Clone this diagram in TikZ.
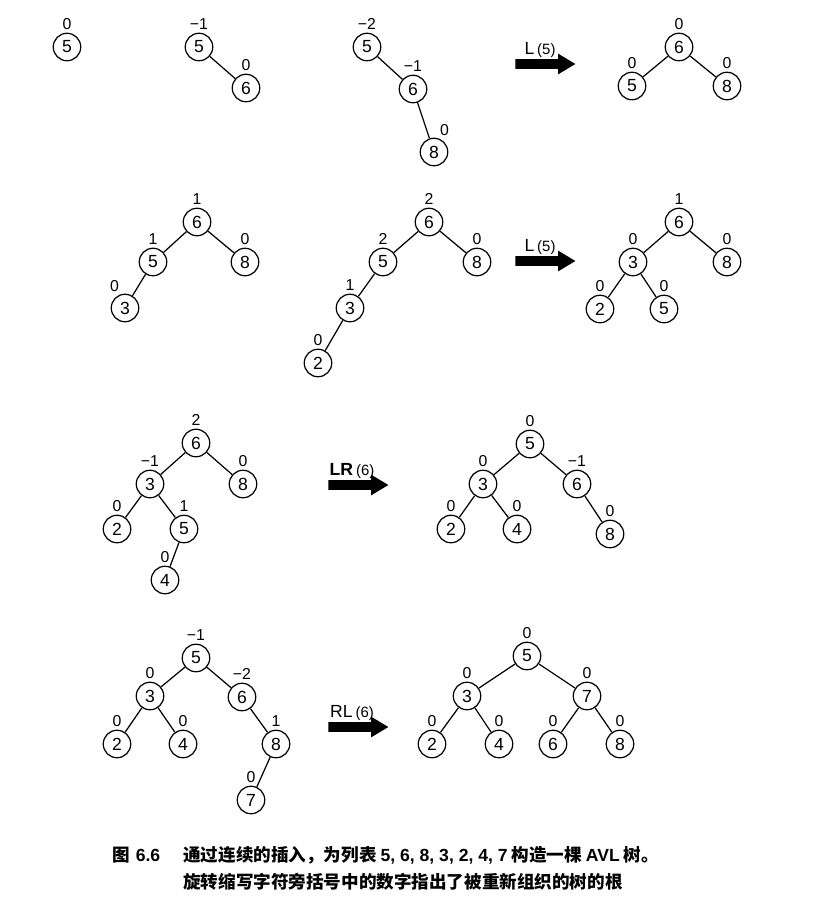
\documentclass[tikz,border=0pt]{standalone}
\usepackage{fontspec}
\setsansfont{Liberation Sans}
\newfontfamily\cjk{Noto Sans CJK SC}
\usetikzlibrary{calc,shapes.arrows}

\begin{document}
\begin{tikzpicture}[x=0.02cm,y=-0.02cm,
    vtx/.style={circle,draw,line width=0.7pt,minimum size=0.55cm,inner sep=0pt,
        font=\sffamily\fontsize{10}{10}\selectfont},
    every label/.style={font=\sffamily\fontsize{9}{9}\selectfont,inner sep=1pt},
    label distance=0.5pt,
    lnk/.style={line width=0.7pt},
    rot/.style={single arrow,fill=black,inner sep=0.09cm,minimum height=1.2cm,
        single arrow head extend=0.11cm,single arrow tip angle=62,anchor=west},
    rotname/.style={font=\sffamily\fontsize{10}{10}\selectfont,inner sep=0pt}]
    \useasboundingbox (0,0) rectangle (834,907);

    % row 1
    \node[vtx,label=above:0] (a5) at (67,47) {5};

    \node[vtx,label=above:−1] (b5) at (199,47) {5};
    \node[vtx,label=above:0] (b6) at (246,88) {6};
    \draw[lnk] (b5) -- (b6);

    \node[vtx,label=above:−2] (c5) at (367,47) {5};
    \node[vtx,label=above:−1] (c6) at (413,89) {6};
    \node[vtx,label=75:0] (c8) at (434,152) {8};
    \draw[lnk] (c5) -- (c6) -- (c8);

    \node[rot] (arrA) at (515,64) {};
    \node[rotname] (nameA) at (540,50) {L\,{\fontsize{8.5}{8.5}\selectfont(5)}};

    \node[vtx,label=above:0] (d6) at (679,47) {6};
    \node[vtx,label=above:0] (d5) at (632,86) {5};
    \node[vtx,label=above:0] (d8) at (727,86) {8};
    \draw[lnk] (d5) -- (d6) -- (d8);

    % row 2
    \node[vtx,label=above:1] (e6) at (197,222) {6};
    \node[vtx,label=above:1] (e5) at (153,262) {5};
    \node[vtx,label=above:0] (e8) at (245,262) {8};
    \node[vtx,label=105:0] (e3) at (125,308) {3};
    \draw[lnk] (e3) -- (e5) -- (e6) -- (e8);

    \node[vtx,label=above:2] (f6) at (429,222) {6};
    \node[vtx,label=above:2] (f5) at (383,262) {5};
    \node[vtx,label=above:0] (f8) at (477,262) {8};
    \node[vtx,label=above:1] (f3) at (350,308) {3};
    \node[vtx,label=above:0] (f2) at (318,363) {2};
    \draw[lnk] (f2) -- (f3) -- (f5) -- (f6) -- (f8);

    \node[rot] (arrB) at (515,261) {};
    \node[rotname] (nameB) at (540,247) {L\,{\fontsize{8.5}{8.5}\selectfont(5)}};

    \node[vtx,label=above:1] (g6) at (679,222) {6};
    \node[vtx,label=above:0] (g3) at (633,262) {3};
    \node[vtx,label=above:0] (g8) at (727,262) {8};
    \node[vtx,label=above:0] (g2) at (600,309) {2};
    \node[vtx,label=above:0] (g5) at (664,309) {5};
    \draw[lnk] (g2) -- (g3) -- (g6) -- (g8);
    \draw[lnk] (g3) -- (g5);

    % row 3
    \node[vtx,label=above:2] (h6) at (196,443) {6};
    \node[vtx,label=above:−1] (h3) at (150,484) {3};
    \node[vtx,label=above:0] (h8) at (243,484) {8};
    \node[vtx,label=above:0] (h2) at (117,529) {2};
    \node[vtx,label=above:1] (h5) at (184,529) {5};
    \node[vtx,label=above:0] (h4) at (165,580) {4};
    \draw[lnk] (h2) -- (h3) -- (h6) -- (h8);
    \draw[lnk] (h3) -- (h5) -- (h4);

    \node[rot] (arrC) at (328,485) {};
    \node[rotname] (nameC) at (352,471) {\bfseries LR\,{\mdseries\fontsize{8.5}{8.5}\selectfont(6)}};

    \node[vtx,label=above:0] (i5) at (530,444) {5};
    \node[vtx,label=above:0] (i3) at (483,484) {3};
    \node[vtx,label=above:−1] (i6) at (577,484) {6};
    \node[vtx,label=above:0] (i2) at (451,529) {2};
    \node[vtx,label=above:0] (i4) at (517,529) {4};
    \node[vtx,label=above:0] (i8) at (610,534) {8};
    \draw[lnk] (i2) -- (i3) -- (i5) -- (i6) -- (i8);
    \draw[lnk] (i3) -- (i4);

    % row 4
    \node[vtx,label=above:−1] (j5) at (196,658) {5};
    \node[vtx,label=above:0] (j3) at (150,696) {3};
    \node[vtx,label=above:−2] (j6) at (242,697) {6};
    \node[vtx,label=above:0] (j2) at (117,744) {2};
    \node[vtx,label=above:0] (j4) at (183,744) {4};
    \node[vtx,label=above:1] (j8) at (276,744) {8};
    \node[vtx,label=above:0] (j7) at (251,800) {7};
    \draw[lnk] (j2) -- (j3) -- (j5) -- (j6) -- (j8) -- (j7);
    \draw[lnk] (j3) -- (j4);

    \node[rot] (arrD) at (328,727) {};
    \node[rotname] (nameD) at (352,713) {RL\,{\fontsize{8.5}{8.5}\selectfont(6)}};

    \node[vtx,label=above:0] (k5) at (527,656) {5};
    \node[vtx,label=above:0] (k3) at (467,696) {3};
    \node[vtx,label=above:0] (k7) at (587,696) {7};
    \node[vtx,label=above:0] (k2) at (432,744) {2};
    \node[vtx,label=above:0] (k4) at (499,744) {4};
    \node[vtx,label=above:0] (k6) at (553,744) {6};
    \node[vtx,label=above:0] (k8) at (620,744) {8};
    \draw[lnk] (k2) -- (k3) -- (k5) -- (k7) -- (k8);
    \draw[lnk] (k3) -- (k4);
    \draw[lnk] (k7) -- (k6);

    % caption
    \node[anchor=west,inner sep=0pt] (capnum) at (112,855)
        {{\cjk\bfseries 图} {\sffamily\bfseries 6.6}};
    \node[anchor=west,inner sep=0pt] (capone) at (183,855)
        {\cjk\bfseries 通过连续的插入，为列表 {\sffamily 5, 6, 8, 3, 2, 4, 7} 构造一棵 {\sffamily AVL} 树。};
    \node[anchor=west,inner sep=0pt] (captwo) at (183,882)
        {\cjk\bfseries 旋转缩写字符旁括号中的数字指出了被重新组织的树的根};
\end{tikzpicture}
\end{document}
